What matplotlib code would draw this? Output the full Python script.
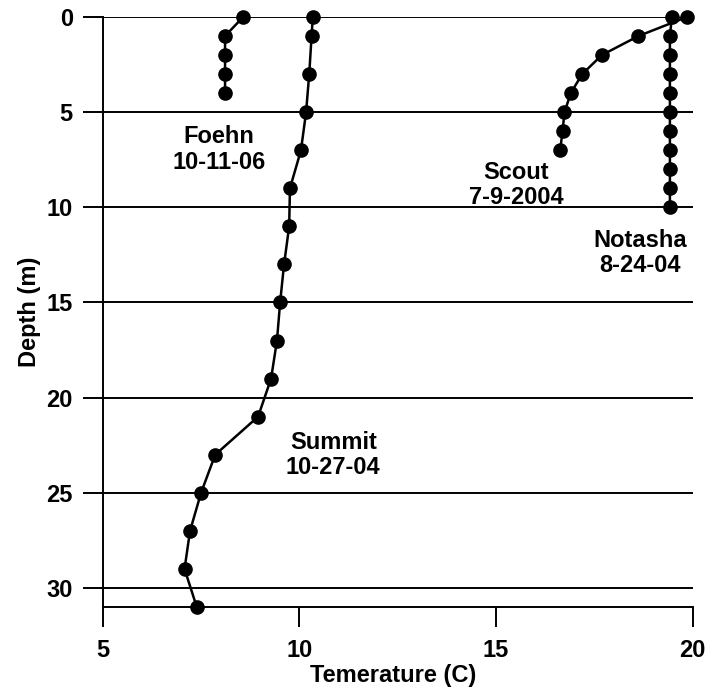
import matplotlib.pyplot as plt

plt.rcParams['font.family'] = ['Liberation Sans', 'DejaVu Sans']
plt.rcParams['font.weight'] = 'bold'

# Temperature profiles (depth in m, temperature in C)
foehn_depth = [0, 1, 2, 3, 4]
foehn_temp = [8.57, 8.11, 8.11, 8.11, 8.11]

summit_depth = [0, 1, 3, 5, 7, 9, 11, 13, 15, 17, 19, 21, 23, 25, 27, 29, 31]
summit_temp = [10.34, 10.31, 10.25, 10.17, 10.04, 9.76, 9.74, 9.61, 9.51, 9.43,
               9.28, 8.95, 7.86, 7.50, 7.22, 7.08, 7.39]

scout_depth = [0, 1, 2, 3, 4, 5, 6, 7]
scout_temp = [19.85, 18.62, 17.69, 17.19, 16.90, 16.74, 16.69, 16.63]

notasha_depth = [0, 1, 2, 3, 4, 5, 6, 7, 8, 9, 10]
notasha_temp = [19.47, 19.42, 19.42, 19.42, 19.42, 19.42, 19.42, 19.42, 19.42, 19.42, 19.42]

labels = ['Foehn\n10-11-06', 'Summit\n10-27-04', 'Scout\n7-9-2004', 'Notasha\n8-24-04']
label_pos = [(7.96, 6.96), (10.86, 23.0), (15.51, 8.83), (18.67, 12.4)]

x_ticks = [5, 10, 15, 20]
y_ticks = [0, 5, 10, 15, 20, 25, 30]

fig = plt.figure(figsize=(7.07, 6.94), dpi=100)
ax = fig.add_axes([0.1453, 0.1254, 0.8345, 0.8501])

for d, t in [(foehn_depth, foehn_temp), (summit_depth, summit_temp),
             (scout_depth, scout_temp), (notasha_depth, notasha_temp)]:
    ax.plot(t, d, color='black', lw=1.8, marker='o', ms=9.5, clip_on=False, zorder=3)

for txt, (x, y) in zip(labels, label_pos):
    ax.text(x, y, txt, ha='center', va='center', fontsize=17, fontweight='bold',
            linespacing=1.12)

for y in y_ticks:
    ax.axhline(y, color='black', lw=1.4, zorder=1)

ax.set_xlim(5, 20)
ax.set_ylim(31, 0)
ax.set_xticks(x_ticks)
ax.set_yticks(y_ticks)
ax.tick_params(axis='both', direction='out', length=14.5, width=1.4, labelsize=17)
ax.tick_params(axis='x', pad=8.5)
ax.tick_params(axis='y', pad=7)

for side in ['top', 'right']:
    ax.spines[side].set_visible(False)
for side in ['left', 'bottom']:
    ax.spines[side].set_linewidth(1.4)

ax.set_xlabel('Temerature (C)', fontsize=17, fontweight='bold', labelpad=0)
ax.xaxis.set_label_coords(0.493, -0.097)
ax.set_ylabel('Depth (m)', fontsize=17, fontweight='bold', labelpad=4)

fig.savefig('out.png', dpi=100)
